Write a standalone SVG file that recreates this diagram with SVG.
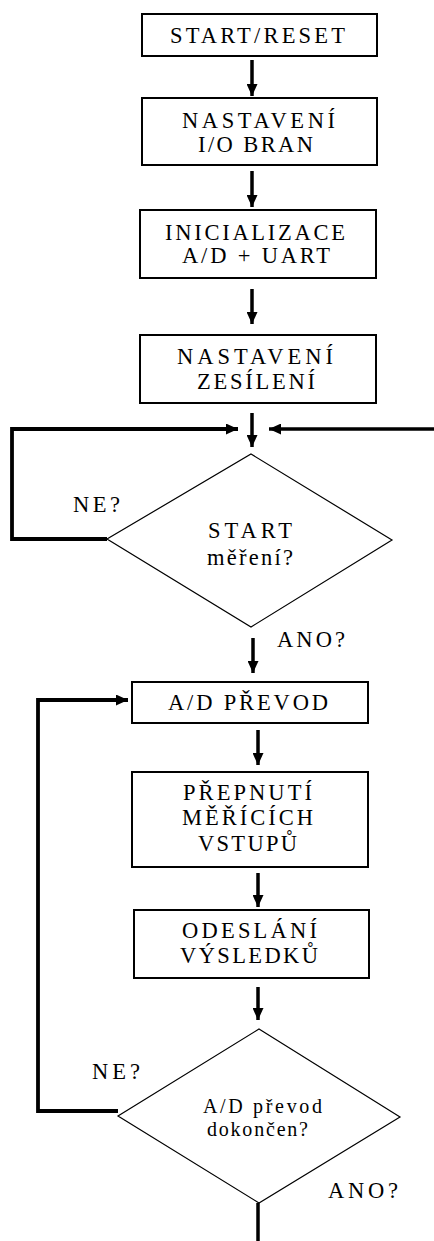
<svg xmlns="http://www.w3.org/2000/svg" width="434" height="1241" viewBox="0 0 434 1241">
<style>
.box{fill:#fff;stroke:#000;stroke-width:2}
.dia{fill:#fff;stroke:#000;stroke-width:1.2}
.t{font-family:"Liberation Serif","Times New Roman",serif;font-size:22.5px;fill:#000}
.s{font-family:"Liberation Serif","Times New Roman",serif;font-size:20px;fill:#000}
.c{fill:none;stroke:#000;stroke-width:3.5}
.l{fill:none;stroke:#000;stroke-width:3.8}
</style>
<defs>
<marker id="ah" markerUnits="userSpaceOnUse" markerWidth="12" markerHeight="11" refX="12" refY="5.5" orient="auto">
<path d="M0,0 L12,5.5 L0,11 z" fill="#000"/>
</marker>
</defs>
<rect width="434" height="1241" fill="#fff"/>
<g id="connectors">
<line class="c" x1="252" y1="60" x2="252" y2="96" marker-end="url(#ah)"/>
<line class="c" x1="252" y1="171" x2="252" y2="207" marker-end="url(#ah)"/>
<line class="c" x1="252" y1="289" x2="252" y2="324" marker-end="url(#ah)"/>
<line class="c" x1="252" y1="413" x2="252" y2="447" marker-end="url(#ah)"/>
<polyline class="l" points="107,539 12,539 12,429 238,429" marker-end="url(#ah)"/>
<line class="c" x1="434" y1="429" x2="269" y2="429" marker-end="url(#ah)"/>
<line class="c" x1="253" y1="638" x2="253" y2="673" marker-end="url(#ah)"/>
<line class="c" x1="258" y1="730" x2="258" y2="765" marker-end="url(#ah)"/>
<line class="c" x1="258" y1="873" x2="258" y2="907" marker-end="url(#ah)"/>
<line class="c" x1="258" y1="987" x2="258" y2="1020" marker-end="url(#ah)"/>
<polyline class="l" points="118,1111 38,1111 38,700 128,700" marker-end="url(#ah)"/>
<line class="c" x1="258" y1="1203" x2="258" y2="1241"/>
</g>
<g id="start">
<rect class="box" x="142" y="14" width="235" height="42"/>
<text class="t" x="170" y="43" textLength="175" lengthAdjust="spacing">START/RESET</text>
</g>
<g id="io">
<rect class="box" x="142" y="98" width="235" height="67"/>
<text class="t" x="182" y="128" textLength="153" lengthAdjust="spacing">NASTAVENÍ</text>
<text class="t" x="198" y="152" textLength="115" lengthAdjust="spacing">I/O BRAN</text>
</g>
<g id="init">
<rect class="box" x="140" y="210" width="236" height="68"/>
<text class="t" x="165" y="240" textLength="180" lengthAdjust="spacing">INICIALIZACE</text>
<text class="t" x="182" y="263" textLength="148" lengthAdjust="spacing">A/D + UART</text>
</g>
<g id="gain">
<rect class="box" x="140" y="335" width="236" height="68"/>
<text class="t" x="177" y="364" textLength="156" lengthAdjust="spacing">NASTAVENÍ</text>
<text class="t" x="197" y="389" textLength="118" lengthAdjust="spacing">ZESÍLENÍ</text>
</g>
<g id="dec1">
<polygon class="dia" points="251,454 392,540 251,627 107,539"/>
<text class="t" x="208" y="538" textLength="84" lengthAdjust="spacing">START</text>
<text class="t" x="207" y="565" textLength="86" lengthAdjust="spacing">měření?</text>
<text class="t" x="73" y="512" textLength="47" lengthAdjust="spacing">NE?</text>
<text class="t" x="277" y="647" textLength="68" lengthAdjust="spacing">ANO?</text>
</g>
<g id="adc">
<rect class="box" x="132" y="682" width="236" height="41"/>
<text class="t" x="168" y="710" textLength="160" lengthAdjust="spacing">A/D PŘEVOD</text>
</g>
<g id="switch">
<rect class="box" x="132" y="772" width="236" height="95"/>
<text class="t" x="183" y="800" textLength="129" lengthAdjust="spacing">PŘEPNUTÍ</text>
<text class="t" x="182" y="825" textLength="131" lengthAdjust="spacing">MĚŘÍCÍCH</text>
<text class="t" x="198" y="851" textLength="99" lengthAdjust="spacing">VSTUPŮ</text>
</g>
<g id="send">
<rect class="box" x="134" y="910" width="235" height="68"/>
<text class="t" x="182" y="938" textLength="135" lengthAdjust="spacing">ODESLÁNÍ</text>
<text class="t" x="180" y="963" textLength="138" lengthAdjust="spacing">VÝSLEDKŮ</text>
</g>
<g id="dec2">
<polygon class="dia" points="259,1029 400,1117 259,1203 118,1116"/>
<text class="s" x="203" y="1113" textLength="119" lengthAdjust="spacing">A/D převod</text>
<text class="s" x="207" y="1136" textLength="101" lengthAdjust="spacing">dokončen?</text>
<text class="t" x="92" y="1079" textLength="48" lengthAdjust="spacing">NE?</text>
<text class="t" x="328" y="1198" textLength="70" lengthAdjust="spacing">ANO?</text>
</g>
</svg>
